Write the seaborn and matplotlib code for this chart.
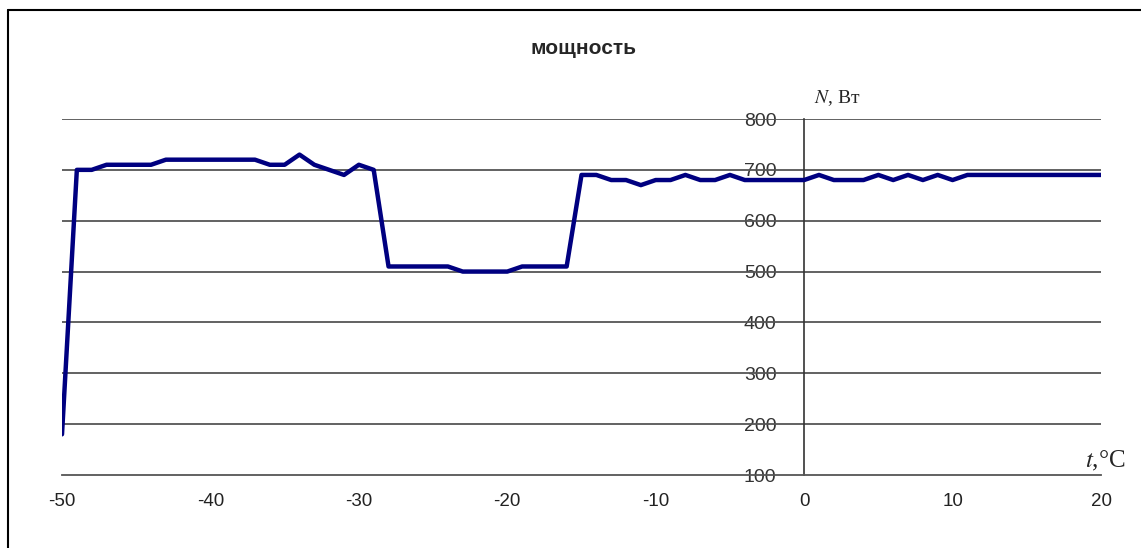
import numpy as np
import pandas as pd
import seaborn as sns
import matplotlib.pyplot as plt
from matplotlib.lines import Line2D

sns.set_style("white")
plt.rcParams['font.family'] = ['Liberation Sans', 'DejaVu Sans']
plt.rcParams['mathtext.fontset'] = 'stix'
plt.rcParams['axes.unicode_minus'] = False

# air temperature, deg C
t = list(range(-50, 21))
# power, W
power = [180, 700, 700, 710, 710, 710, 710, 720, 720, 720,
         720, 720, 720, 720, 710, 710, 730, 710, 700, 690,
         710, 700, 510, 510, 510, 510, 510, 500, 500, 500,
         500, 510, 510, 510, 510, 690, 690, 680, 680, 670,
         680, 680, 690, 680, 680, 690, 680, 680, 680, 680,
         680, 690, 680, 680, 680, 690, 680, 690, 680, 690,
         680, 690, 690, 690, 690, 690, 690, 690, 690, 690,
         690]
y_ticks = [100, 200, 300, 400, 500, 600, 700, 800]
x_ticks = [-50, -40, -30, -20, -10, 0, 10, 20]

df = pd.DataFrame({"t": t, "N": power})

fig = plt.figure(figsize=(11.41, 5.48), dpi=100)
ax = fig.add_axes([62 / 1141, 1 - 475 / 548, (1101 - 62) / 1141, (475 - 119) / 548])

for v in y_ticks[1:]:
    ax.axhline(v, color="#555555", lw=1.3, zorder=1)

sns.lineplot(data=df, x="t", y="N", color="#000080", lw=3.2, ax=ax, zorder=3)

ax.set_xlim(-50, 20)
ax.set_ylim(100, 800)
ax.set_xticks(x_ticks)
ax.set_yticks(y_ticks)
ax.set_xlabel("")
ax.set_ylabel("")

for s in ["top", "right"]:
    ax.spines[s].set_visible(False)
ax.spines["left"].set_position(("data", 0))
ax.spines["left"].set_color("#333333")
ax.spines["left"].set_linewidth(1.2)
ax.spines["left"].set_zorder(2)
ax.spines["bottom"].set_color("#555555")
ax.spines["bottom"].set_linewidth(1.3)

ax.tick_params(axis="x", direction="out", length=6, width=1.2, color="#555555",
               labelsize=13.5, labelcolor="#222222", pad=7)
ax.tick_params(axis="y", length=0, labelsize=14, labelcolor="#333333", pad=20)
for lab in ax.get_yticklabels():
    lab.set_zorder(0)

fig.text(583 / 1141, 1 - 48 / 548, "мощность", ha="center", va="center",
         fontsize=15, fontweight="bold")
fig.text(814 / 1141, 1 - 98 / 548, "$N$, Вт", ha="left", va="center",
         fontsize=14, family="Liberation Serif")
fig.text(1085 / 1141, 1 - 461 / 548, "$t$,°C", ha="left", va="center",
         fontsize=18, family="Liberation Serif")

# frame around the picture
fig.add_artist(Line2D([8 / 1141, 8 / 1141], [0, 1 - 10 / 548], color="black", lw=1.5))
fig.add_artist(Line2D([8 / 1141, 1], [1 - 10 / 548, 1 - 10 / 548], color="black", lw=1.5))

fig.savefig("out.png", dpi=100)
